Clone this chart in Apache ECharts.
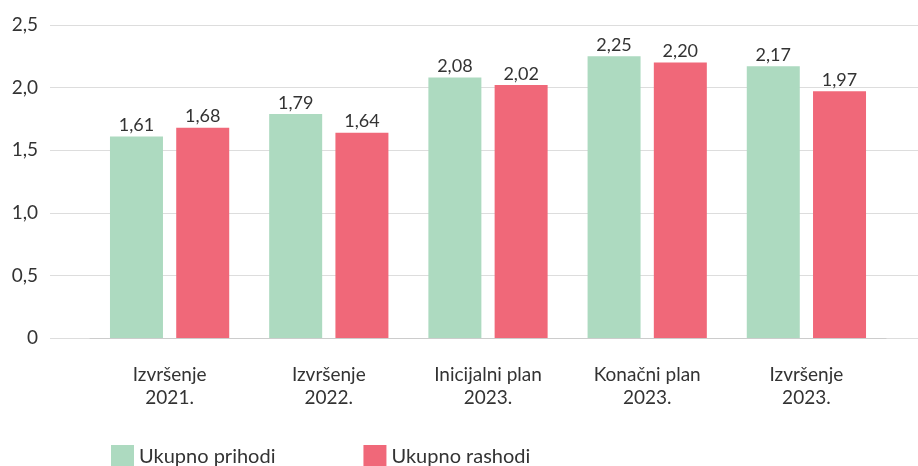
<!DOCTYPE html>
<html>
<head>
<meta charset="utf-8">
<script src="https://cdn.jsdelivr.net/npm/echarts@6/dist/echarts.min.js"></script>
<style>html,body{margin:0;padding:0;background:#fff}#chart{width:918px;height:466px}</style>
</head>
<body>
<div id="chart"></div>
<script>
// kategorije i vrijednosti (mlrd.)
var categories = ['Izvršenje\n2021.', 'Izvršenje\n2022.', 'Inicijalni plan\n2023.', 'Konačni plan\n2023.', 'Izvršenje\n2023.'];
var prihodi = [1.61, 1.79, 2.08, 2.25, 2.17];
var rashodi = [1.68, 1.64, 2.02, 2.20, 1.97];
var seriesNames = ['Ukupno prihodi', 'Ukupno rashodi'];

var fontFam = 'Lato, "Noto Sans", sans-serif';
function fmt(v) { return v === 0 ? '0' : v.toFixed(1).replace('.', ','); }

var chart = echarts.init(document.getElementById('chart'));
var option = {
    color: ['#addac0', '#f06879'],
    textStyle: { fontFamily: fontFam },
    legend: {
        left: 106, top: 440,
        itemWidth: 23, itemHeight: 23, itemGap: 88,
        icon: 'rect',
        textStyle: { fontSize: 20, color: '#333', fontFamily: fontFam },
        data: seriesNames
    },
    grid: [
        { left: 50, right: 0, top: 25, bottom: 128 },   // mreža za osi y
        { left: 90, right: 32, top: 25, bottom: 128 }   // stupci
    ],
    xAxis: [
        { gridIndex: 0, type: 'value', show: false, min: 0, max: 1 },
        {
            gridIndex: 1, type: 'category', data: categories,
            axisLine: { lineStyle: { color: '#ccc' } },
            axisTick: { show: false },
            axisLabel: { fontSize: 19, color: '#333', margin: 25, lineHeight: 23, fontFamily: fontFam }
        }
    ],
    yAxis: [
        {
            gridIndex: 0, type: 'value', min: 0, max: 2.5, interval: 0.5,
            axisLine: { show: false }, axisTick: { show: false },
            splitLine: { lineStyle: { color: '#ddd' } },
            axisLabel: { fontSize: 19, color: '#333', margin: 12, formatter: fmt, fontFamily: fontFam }
        },
        { gridIndex: 1, type: 'value', min: 0, max: 2.5, show: false, splitLine: { show: false } }
    ],
    series: [
        {
            name: seriesNames[0], type: 'bar', xAxisIndex: 1, yAxisIndex: 1,
            data: prihodi, barWidth: 53, barGap: '25%',
            label: { show: true, position: 'top', distance: 2, fontSize: 18, color: '#333', fontFamily: fontFam,
                formatter: function (p) { return p.value.toFixed(2).replace('.', ','); } }
        },
        {
            name: seriesNames[1], type: 'bar', xAxisIndex: 1, yAxisIndex: 1,
            data: rashodi, barWidth: 53, barGap: '25%',
            label: { show: true, position: 'top', distance: 2, fontSize: 18, color: '#333', fontFamily: fontFam,
                formatter: function (p) { return p.value.toFixed(2).replace('.', ','); } }
        }
    ]
};
chart.setOption(option);
</script>
</body>
</html>
